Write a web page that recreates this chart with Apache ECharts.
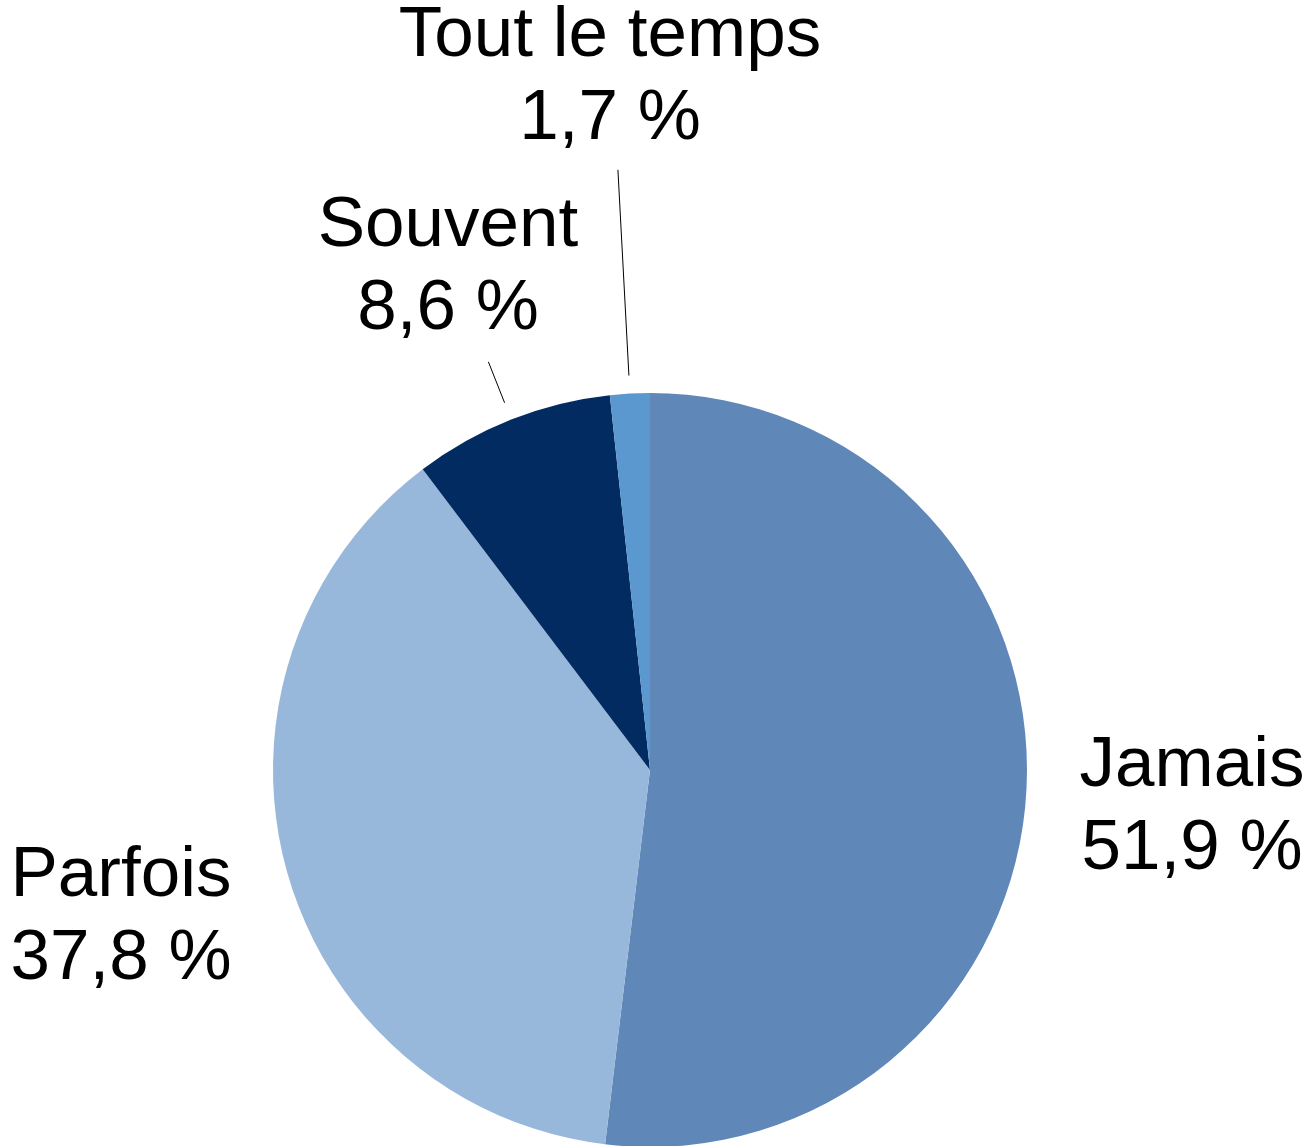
<!DOCTYPE html>
<html>
<head>
<meta charset="utf-8">
<script src="https://cdn.jsdelivr.net/npm/echarts@6/dist/echarts.min.js"></script>
<style>
  html, body { margin: 0; padding: 0; background: #fff; }
  #chart { width: 1308px; height: 1146px; }
</style>
</head>
<body>
<div id="chart"></div>
<script>
  // valeurs
  const categories = ['Jamais', 'Parfois', 'Souvent', 'Tout le temps'];
  const values = [51.9, 37.8, 8.6, 1.7];
  const colors = ['#5f87b8', '#97b8da', '#022b62', '#5a98cf'];

  // où poser chaque étiquette (centre du bloc de texte)
  const labelSpots = [[1192, 808], [121, 918], [448, 268], [610, 78]];
  const withLine = [false, false, true, true];
  // trait de rappel : écart depuis le bord du camembert, puis distance de fin
  const lineGap = 18;
  const lineEnd = [0, 0, 62, 224];
  const pieCenter = [650, 770];

  const chart = echarts.init(document.getElementById('chart'));

  chart.setOption({
    animation: false,
    series: [{
      type: 'pie',
      center: pieCenter,
      radius: 377,
      startAngle: 90,
      clockwise: true,
      avoidLabelOverlap: false,
      data: categories.map((name, i) => ({
        name: name,
        value: values[i],
        itemStyle: { color: colors[i] },
        labelLine: { show: withLine[i] }
      })),
      label: {
        show: true,
        position: 'outside',
        color: '#000',
        fontFamily: 'Liberation Sans, Arial, sans-serif',
        fontSize: 71,
        lineHeight: 83,
        align: 'center',
        formatter: p => p.name + '\n' + p.value.toFixed(1).replace('.', ',') + ' %'
      },
      labelLine: {
        length: 20,
        length2: 0,
        lineStyle: { color: '#000', width: 1 }
      },
      labelLayout: params => {
        const i = params.dataIndex;
        const out = {
          x: labelSpots[i][0],
          y: labelSpots[i][1],
          align: 'center',
          verticalAlign: 'middle'
        };
        const pts = params.labelLinePoints;
        if (withLine[i] && pts) {
          // le trait part du bord du secteur, dans l'axe du rayon
          const dx = pts[0][0] - pieCenter[0];
          const dy = pts[0][1] - pieCenter[1];
          const len = Math.sqrt(dx * dx + dy * dy) || 1;
          const ux = dx / len, uy = dy / len;
          out.labelLinePoints = [
            [pts[0][0] + ux * lineGap, pts[0][1] + uy * lineGap],
            [pts[0][0] + ux * lineEnd[i], pts[0][1] + uy * lineEnd[i]]
          ];
        }
        return out;
      },
      emphasis: { disabled: true }
    }]
  });
</script>
</body>
</html>
